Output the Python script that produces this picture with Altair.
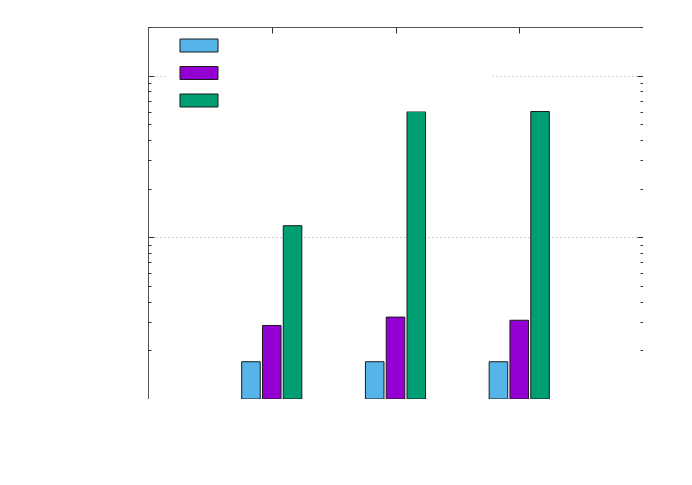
import altair as alt
import pandas as pd

# ---- data ----
groups = [0, 1, 2]
series_names = ["s1", "s2", "s3"]
values_s1 = [1.70, 1.70, 1.70]
values_s2 = [2.85, 3.21, 3.07]
values_s3 = [11.8, 60.0, 60.0]
colors = ["#56b4e9", "#9400d3", "#009e73"]
y_major = [1, 10, 100]
y_minor = [2, 3, 4, 5, 6, 7, 8, 9, 20, 30, 40, 50, 60, 70, 80, 90, 200]
y_grid = [10, 100]

rows = []
for k, (s, vals) in enumerate(zip(series_names, [values_s1, values_s2, values_s3])):
    for g, v in zip(groups, vals):
        rows.append({"group": g, "k": k, "series": s, "value": v})
df = pd.DataFrame(rows)

W, H = 495, 372
TICK = "#333333"
xscale = alt.Scale(domain=[-1, 3], nice=False, zero=False)
yscale = alt.Scale(type="log", domain=[1, 200], nice=False)

base = alt.Chart(df).transform_calculate(
    x0="datum.group + (datum.k - 1) * 0.168 - 0.075",
    x1="datum.group + (datum.k - 1) * 0.168 + 0.075",
)


def tick_axis(orient, offset, values, size):
    return alt.Axis(orient=orient, offset=offset, values=values, tickSize=size,
                    labels=False, domain=False, grid=False, title=None,
                    tickColor=TICK, tickWidth=1)


legend = alt.Legend(
    orient="none", legendX=18.5, legendY=9.5, title=None,
    symbolType="M0.69,-1H6.54V1H0.69Z", symbolSize=169,
    symbolStrokeColor="#1a1a1a", symbolStrokeWidth=1, symbolOpacity=1,
    labelExpr="''", labelFontSize=10, labelOffset=308,
    rowPadding=9.5, padding=2, fillColor="white",
)

bars = base.mark_bar(stroke="#1a1a1a", strokeWidth=1).encode(
    x=alt.X("x0:Q", scale=xscale, axis=tick_axis("top", -H, groups, 6)),
    x2="x1:Q",
    y=alt.Y("value:Q", scale=yscale,
            axis=alt.Axis(orient="left", values=y_grid, ticks=False, labels=False,
                          domain=False, grid=True, gridDash=[1, 3],
                          gridColor="#a0a0a0", gridWidth=1, title=None)),
    y2=alt.datum(1),
    color=alt.Color("series:N", scale=alt.Scale(domain=series_names, range=colors),
                    legend=legend),
)

pts = base.mark_point(opacity=0, size=1)
l2 = pts.encode(
    x=alt.X("x0:Q", scale=xscale, axis=tick_axis("bottom", -H, groups, 6)),
    y=alt.Y("value:Q", scale=yscale, axis=tick_axis("right", -W, y_major, 6)),
)
l3 = pts.encode(
    x=alt.X("x0:Q", scale=xscale, axis=None),
    y=alt.Y("value:Q", scale=yscale, axis=tick_axis("right", -W, y_minor, 3)),
)
l4 = pts.encode(
    x=alt.X("x0:Q", scale=xscale, axis=None),
    y=alt.Y("value:Q", scale=yscale, axis=tick_axis("left", -W, y_major, 6)),
)
l5 = pts.encode(
    x=alt.X("x0:Q", scale=xscale, axis=None),
    y=alt.Y("value:Q", scale=yscale, axis=tick_axis("left", -W, y_minor, 3)),
)

chart = alt.layer(bars, l2, l3, l4, l5).resolve_axis(
    x="independent", y="independent"
).properties(
    width=W, height=H,
    padding={"left": 140, "top": 19, "right": 0, "bottom": 0},
    autosize=alt.AutoSizeParams(type="none"),
    background="white",
).configure_view(stroke="#555555", strokeWidth=1)

chart.save("out.html", embed_options={"renderer": "svg", "actions": False})
